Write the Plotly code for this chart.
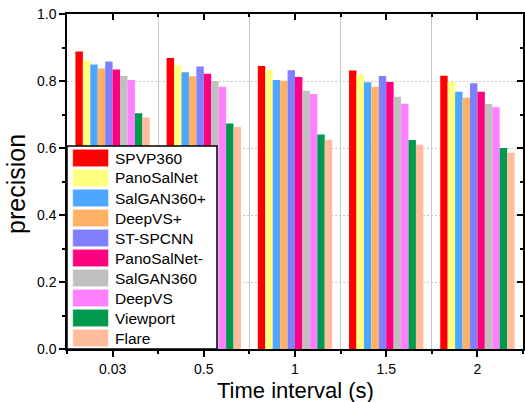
import plotly.graph_objects as go

categories = ["0.03", "0.5", "1", "1.5", "2"]
series_names = ["SPVP360", "PanoSalNet", "SalGAN360+", "DeepVS+", "ST-SPCNN",
                "PanoSalNet-", "SalGAN360", "DeepVS", "Viewport", "Flare"]
spvp360 = [0.888, 0.869, 0.845, 0.831, 0.816]
panosalnet = [0.861, 0.847, 0.833, 0.819, 0.797]
salgan360p = [0.849, 0.826, 0.803, 0.796, 0.768]
deepvsp = [0.837, 0.814, 0.801, 0.783, 0.750]
stspcnn = [0.858, 0.843, 0.832, 0.815, 0.793]
panosalnetm = [0.834, 0.822, 0.812, 0.797, 0.768]
salgan360 = [0.815, 0.800, 0.771, 0.753, 0.731]
deepvs = [0.803, 0.783, 0.761, 0.732, 0.722]
viewport = [0.704, 0.673, 0.640, 0.624, 0.600]
flare = [0.691, 0.663, 0.625, 0.610, 0.586]
series_values = [spvp360, panosalnet, salgan360p, deepvsp, stspcnn,
                 panosalnetm, salgan360, deepvs, viewport, flare]
colors = ["#FF0000", "#FFFF80", "#4DA6FF", "#FFB266", "#8080FF",
          "#FF0080", "#C0C0C0", "#FF80FF", "#00994D", "#FFBD9E"]
y_ticks = [0.0, 0.2, 0.4, 0.6, 0.8, 1.0]

W, H = 525, 402
L, R, T, B = 67, 2, 14, 53
PW, PH = W - L - R, H - T - B
FONT = "Liberation Sans, Arial, sans-serif"

def xp(px):
    return (px - L) / PW

def yp(py):
    return (H - B - py) / PH

xidx = list(range(len(categories)))
fig = go.Figure()
for name, vals, c in zip(series_names, series_values, colors):
    fig.add_trace(go.Bar(x=xidx, y=vals, name=name, marker_color=c,
                         marker_line_width=0, showlegend=False))
# dummy trace to activate mirrored axes
fig.add_trace(go.Scatter(x=[None], y=[None], xaxis="x2", yaxis="y2",
                         showlegend=False, hoverinfo="skip"))

axis_common = dict(showline=True, linecolor="black", linewidth=1.5,
                   tickcolor="black", tickwidth=1.5, zeroline=False)
fig.update_layout(
    width=W, height=H,
    margin=dict(l=L, r=R, t=T, b=B, pad=0),
    paper_bgcolor="white", plot_bgcolor="white",
    barmode="group", bargap=0.185, bargroupgap=0,
    font=dict(family=FONT, color="black", size=14),
    xaxis=dict(range=[-0.5, len(categories) - 0.5], tickmode="array",
               tickvals=xidx, ticktext=categories, ticks="outside", ticklen=6,
               showgrid=False, tickfont=dict(size=14),
               minor=dict(tick0=0.5, dtick=1, ticks="outside", ticklen=3,
                          tickcolor="black", tickwidth=1.5,
                          showgrid=True, gridcolor="#C8C8C8", gridwidth=1),
               **axis_common),
    xaxis2=dict(range=[-0.5, len(categories) - 0.5], overlaying="x", side="top",
                anchor="y2", tickmode="array", tickvals=xidx, showticklabels=False,
                ticks="inside", ticklen=6, showgrid=False,
                minor=dict(tick0=0.5, dtick=1, ticks="inside", ticklen=3,
                           tickcolor="black", tickwidth=1.5, showgrid=False),
                **axis_common),
    yaxis=dict(range=[0, 1], tickmode="array", tickvals=y_ticks,
               ticktext=[f"{v:.1f}" for v in y_ticks], ticks="outside", ticklen=6,
               showgrid=True, gridcolor="#C8C8C8", gridwidth=1, griddash="2px,2px",
               tickfont=dict(size=14),
               minor=dict(tick0=0.1, dtick=0.2, ticks="outside", ticklen=3,
                          tickcolor="black", tickwidth=1.5, showgrid=False),
               **axis_common),
    yaxis2=dict(range=[0, 1], overlaying="y", side="right", anchor="x2",
                tickmode="array", tickvals=y_ticks, showticklabels=False,
                ticks="inside", ticklen=6, showgrid=False,
                minor=dict(tick0=0.1, dtick=0.2, ticks="inside", ticklen=3,
                           tickcolor="black", tickwidth=1.5, showgrid=False),
                **axis_common),
)

# axis titles
fig.add_annotation(text="Time interval (s)", xref="paper", yref="paper",
                   x=xp(295.5), y=yp(390), xanchor="center", yanchor="middle",
                   showarrow=False, font=dict(size=22, family=FONT))
fig.add_annotation(text="precision", xref="paper", yref="paper",
                   x=xp(16), y=yp(184), xanchor="center", yanchor="middle",
                   textangle=-90, showarrow=False, font=dict(size=25, family=FONT))

# custom legend
shapes = [dict(type="rect", xref="paper", yref="paper", layer="above",
               x0=xp(67), x1=xp(217), y0=yp(349), y1=yp(146),
               line=dict(color="black", width=1.5), fillcolor="white")]
for i, (name, c) in enumerate(zip(series_names, colors)):
    top = 149.3 + 20 * i
    shapes.append(dict(type="rect", xref="paper", yref="paper", layer="above",
                       x0=xp(72.7), x1=xp(108.5), y0=yp(top + 17.4), y1=yp(top),
                       line=dict(color="white", width=0.5), fillcolor=c))
    fig.add_annotation(text=name, xref="paper", yref="paper",
                       x=xp(112.5), y=yp(top + 8.7), xanchor="left", yanchor="middle",
                       showarrow=False, font=dict(size=15.5, family=FONT))
fig.update_layout(shapes=shapes)

fig.write_html("out.html")
